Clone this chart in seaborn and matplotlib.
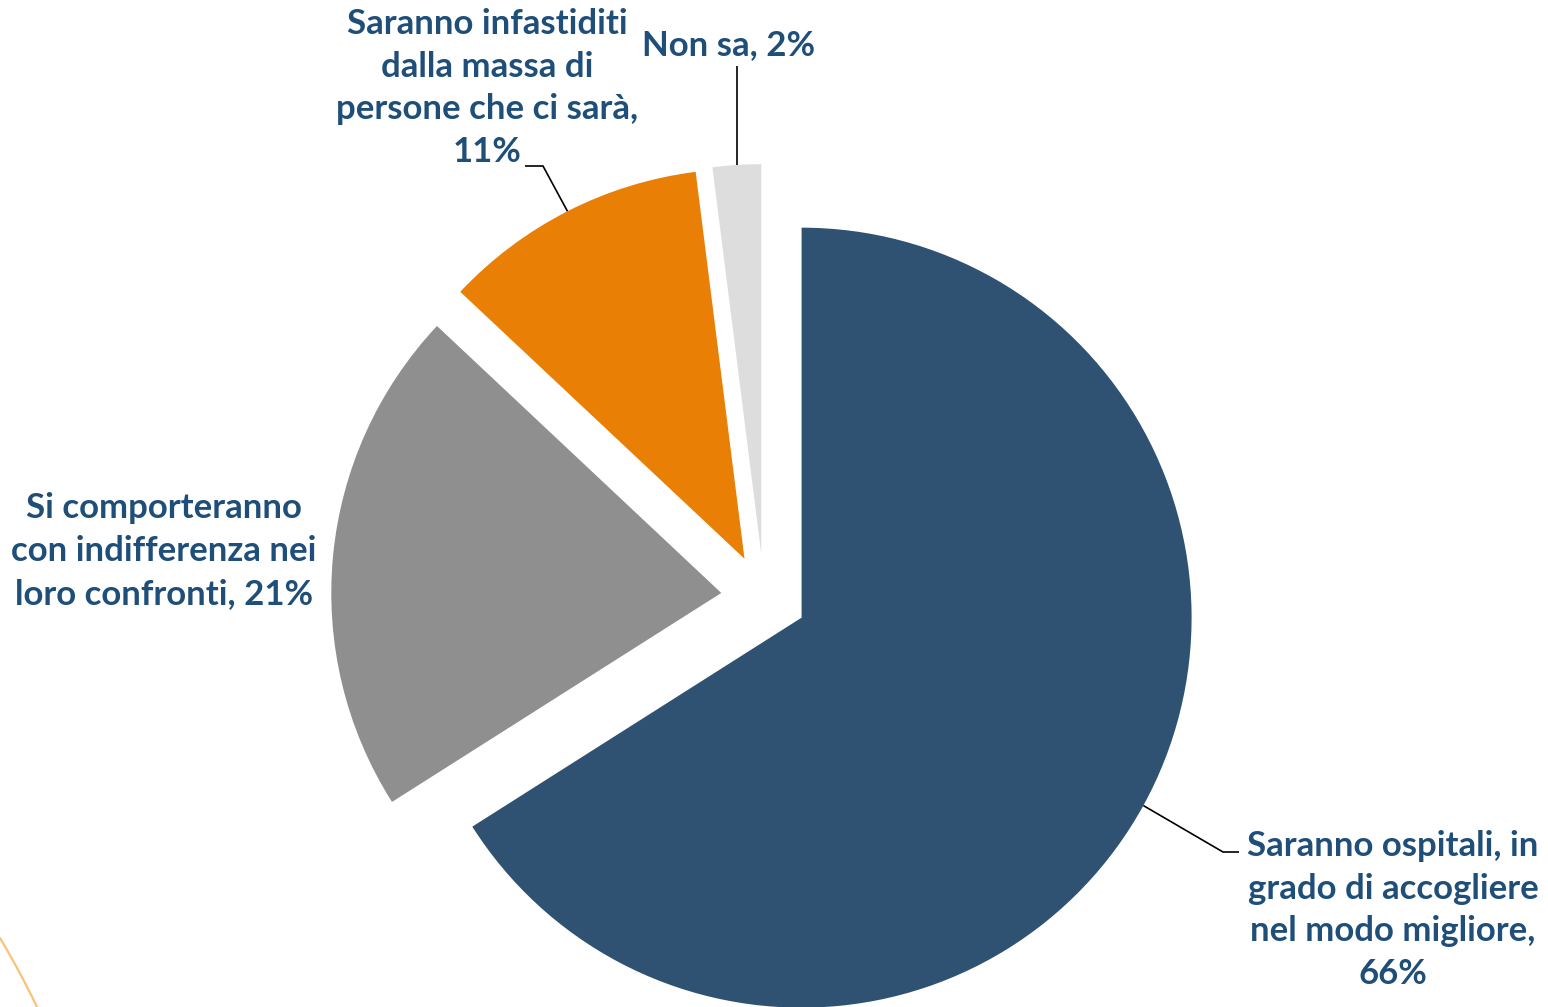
import numpy as np
import matplotlib
matplotlib.use("Agg")
import matplotlib.pyplot as plt
import seaborn as sns

# ---- data ----
categories = [
    "Saranno ospitali, in\ngrado di accogliere\nnel modo migliore,",
    "Si comporteranno\ncon indifferenza nei\nloro confronti,",
    "Saranno infastiditi\ndalla massa di\npersone che ci sarà,",
    "Non sa,",
]
values = [66, 21, 11, 2]
colors = ["#2F5273", "#8F8F8F", "#EA7F05", "#DDDDDD"]

sns.set_theme(style="white")
plt.rcParams["font.family"] = ["Lato", "DejaVu Sans"]

W, H, DPI = 1548, 1007, 100
fig = plt.figure(figsize=(W / DPI, H / DPI), dpi=DPI)
ax = fig.add_axes([0, 0, 1, 1])

# pixel layout: pie centre (764, 597), radius 390 px
cx_px, cy_px, r_px = 764, 597, 390
ax.axis("off")

def px(x, y):
    return ((x - cx_px) / r_px, (cy_px - y) / r_px)

explode_amt = 0.11
wedges, _ = ax.pie(values, colors=colors, startangle=90, counterclock=False,
                   explode=[explode_amt] * len(values), radius=1.0,
                   wedgeprops=dict(linewidth=0))
ax.set_aspect("auto")
ax.set_xlim(-cx_px / r_px, (W - cx_px) / r_px)
ax.set_ylim(-(H - cy_px) / r_px, cy_px / r_px)

txt_color = "#1F4E79"
fs = 25
label_pos = [(1393, 910), (164, 551), (487, 88), (729, 45)]
label_text = [
    f"{categories[0]}\n{values[0]}%",
    f"{categories[1]} {values[1]}%",
    f"{categories[2]}\n{values[2]}%",
    f"{categories[3]} {values[3]}%",
]
for t, (lx, ly) in zip(label_text, label_pos):
    x, y = px(lx, ly)
    ax.text(x, y, t, ha="center", va="center", fontsize=fs, fontweight="bold",
            color=txt_color, linespacing=1.42)

# leader lines from wedge mid-angle edges
def edge_point(i):
    w = wedges[i]
    ang = np.deg2rad((w.theta1 + w.theta2) / 2)
    cxw, cyw = w.center
    return cxw + np.cos(ang) * w.r, cyw + np.sin(ang) * w.r

# blue
sx, sy = edge_point(0)
ex, ey = px(1223, 852)
ex2, _ = px(1239, 852)
ax.plot([sx, ex, ex2], [sy, ey, ey], color="black", lw=1.2, solid_capstyle="butt")
# orange
sx, sy = edge_point(2)
ex, ey = px(543, 166)
ex2, _ = px(525, 166)
ax.plot([sx, ex, ex2], [sy, ey, ey], color="black", lw=1.2, solid_capstyle="butt")
# light gray
sx, sy = edge_point(3)
_, ey = px(737, 66)
ax.plot([sx, sx], [sy, ey], color="black", lw=1.2, solid_capstyle="butt")

# decorative arc bottom-left
t = np.linspace(0, 1, 30)
arc_x = (0 + 37 * t + 4 * t * (1 - t))
arc_y = 938 + 69 * t
fig.lines.append(plt.Line2D(arc_x / W, 1 - arc_y / H, color="#F9C27A", lw=1.6,
                            transform=fig.transFigure))

fig.savefig("out.png", dpi=DPI, facecolor="white")
